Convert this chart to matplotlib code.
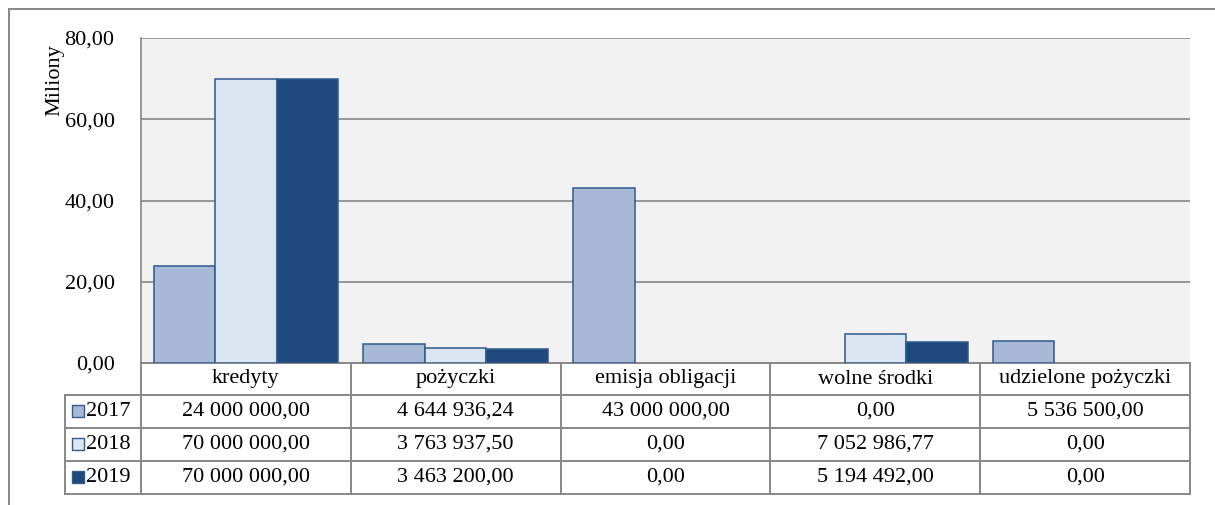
import numpy as np
import matplotlib.pyplot as plt
from matplotlib.lines import Line2D
from matplotlib.patches import Rectangle
from matplotlib.transforms import blended_transform_factory

plt.rcParams['font.family'] = ['Liberation Serif', 'DejaVu Serif']

# data (PLN)
categories = ["kredyty", "pożyczki", "emisja obligacji", "wolne środki", "udzielone pożyczki"]
years = ["2017", "2018", "2019"]
v2017 = [24000000.00, 4644936.24, 43000000.00, 0.00, 5536500.00]
v2018 = [70000000.00, 3763937.50, 0.00, 7052986.77, 0.00]
v2019 = [70000000.00, 3463200.00, 0.00, 5194492.00, 0.00]
yticks = [0, 20, 40, 60, 80]

colors = ["#A8B9D8", "#DCE6F2", "#1F497D"]
edge = "#2E5A8E"
grid_col = "#878787"
FS = 16


def pl_fmt(v):
    # polish number style: 24 000 000,00
    return f"{v:,.2f}".replace(",", " ").replace(".", ",")


W, H = 1215, 505
fig = plt.figure(figsize=(W / 100, H / 100), dpi=100)
ax = fig.add_axes([141 / W, 1 - 363 / H, (1190 - 141) / W, (363 - 38) / H])
ax.set_facecolor("#F2F2F2")

series = [v2017, v2018, v2019]
x = np.arange(len(categories))
bw = 0.293
for i, vals in enumerate(series):
    # zero bars get no outline (Excel doesn't draw them)
    lws = [1.1 if v > 0 else 0 for v in vals]
    ax.bar(x + (i - 1) * bw, np.array(vals) / 1e6, width=bw, color=colors[i],
           edgecolor=edge, linewidth=lws, zorder=3)

ax.set_xlim(-0.5, len(categories) - 0.5)
ax.set_ylim(0, 80)
ax.set_yticks(yticks)
ax.set_yticklabels([pl_fmt(t) for t in yticks], fontsize=FS)
ax.tick_params(axis='y', length=0, pad=19)
ax.set_xticks([])
ax.grid(axis='y', color=grid_col, linewidth=1.2, zorder=0)
for s in ["top", "right", "bottom"]:
    ax.spines[s].set_visible(False)
ax.spines["left"].set_color(grid_col)
ax.spines["left"].set_linewidth(1.2)
ax.text(-0.082, 0.87, "Miliony", transform=ax.transAxes, rotation=90,
        ha='center', va='center', fontsize=FS)

# data table under the plot
tr = blended_transform_factory(ax.transData, ax.transAxes)
ph = 325.0
hdr = 32 / ph
rh = 33 / ph
y_rows = [0, -hdr] + [-hdr - rh * (k + 1) for k in range(3)]
lkw = dict(color=grid_col, linewidth=1.4, transform=tr, clip_on=False)
n = len(categories)
# horizontal lines
ax.add_line(Line2D([-0.5, n - 0.5], [0, 0], **lkw))
label_x0 = -0.5 - (141 - 65) / ((1190 - 141) / n)
for yy in y_rows[1:]:
    ax.add_line(Line2D([label_x0, n - 0.5], [yy, yy], **lkw))
# vertical lines
for k in range(n + 1):
    ax.add_line(Line2D([k - 0.5, k - 0.5], [0, y_rows[-1]], **lkw))
ax.add_line(Line2D([label_x0, label_x0], [y_rows[1], y_rows[-1]], **lkw))

for j, c in enumerate(categories):
    ax.text(j, -hdr / 2, c, transform=tr, ha='center', va='center', fontsize=FS)
for i, vals in enumerate(series):
    yc = -hdr - rh * (i + 0.5)
    for j, v in enumerate(vals):
        ax.text(j, yc, pl_fmt(v), transform=tr, ha='center', va='center', fontsize=FS)
    # legend key and year label
    fx = 72 / W
    fy = 1 - (395 + 33 * i + 22) / H
    fig.add_artist(Rectangle((fx, fy), 12 / W, 12 / H, transform=fig.transFigure,
                             facecolor=colors[i], edgecolor=edge, linewidth=1.0))
    fig.text(86 / W, 1 - (395 + 33 * i + 16.5) / H, years[i], ha='left',
             va='center', fontsize=FS)

# outer chart frame
fig.add_artist(Line2D([9 / W, 9 / W], [0, 1 - 9 / H], color=grid_col, linewidth=1.4,
                      transform=fig.transFigure))
fig.add_artist(Line2D([9 / W, 1], [1 - 9 / H, 1 - 9 / H], color=grid_col, linewidth=1.4,
                      transform=fig.transFigure))

fig.savefig("out.png", dpi=100, facecolor="white")
